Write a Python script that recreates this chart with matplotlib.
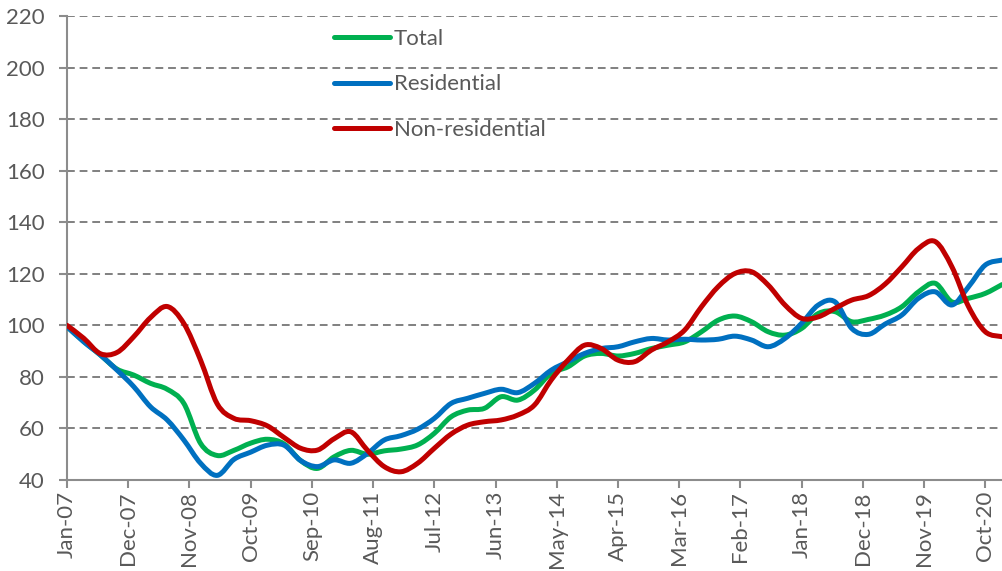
import numpy as np
import matplotlib
matplotlib.use("Agg")
from matplotlib import pyplot as plt
from matplotlib.path import Path
from matplotlib.patches import PathPatch
from matplotlib.lines import Line2D

# quarterly readings (Jan-07 .. Jan-21), index 2007-01 = 100
total = [99.5, 93.8, 88.5, 83.0, 80.7, 77.5, 75.2, 69.7, 54.2, 49.5,
         51.5, 54.3, 55.8, 54.0, 47.5, 44.5, 49.0, 51.5, 50.0, 51.3,
         52.0, 53.6, 58.1, 64.5, 67.1, 67.8, 72.3, 71.0, 74.9, 81.4,
         83.9, 88.1, 89.1, 88.1, 89.1, 91.0, 92.3, 93.6, 97.5, 102.0,
         103.6, 101.4, 97.5, 96.2, 98.8, 104.6, 105.3, 101.4, 102.3, 104.0,
         107.2, 113.0, 116.3, 109.1, 110.5, 112.4, 115.8]
residential = [99.5, 93.6, 88.5, 82.6, 76.2, 68.4, 63.3, 55.5, 46.5, 41.8,
               48.0, 50.8, 53.5, 53.5, 47.5, 45.2, 47.8, 46.5, 50.3, 55.5,
               57.2, 59.7, 63.9, 69.7, 71.7, 73.6, 75.2, 73.9, 77.5, 82.6,
               85.9, 89.1, 91.0, 91.7, 93.6, 94.9, 94.3, 94.6, 94.3, 94.6,
               95.8, 94.3, 91.7, 94.9, 100.8, 107.9, 109.1, 98.8, 96.5, 100.5,
               104.0, 110.5, 113.0, 107.9, 115.0, 123.4, 125.3]
non_residential = [100.0, 95.0, 89.0, 89.5, 95.6, 103.0, 107.3, 100.7, 86.5, 69.5,
                   63.9, 63.0, 61.0, 56.5, 52.3, 51.6, 56.0, 58.7, 51.5, 45.2,
                   43.2, 46.5, 52.3, 57.8, 61.3, 62.6, 63.3, 65.2, 69.1, 78.8,
                   86.5, 92.3, 91.0, 86.5, 85.9, 90.4, 93.6, 98.2, 107.2, 115.0,
                   120.1, 120.8, 115.6, 107.9, 102.7, 103.3, 106.6, 109.8, 111.5, 116.0,
                   122.7, 129.8, 132.5, 122.7, 107.2, 97.5, 95.6]

months = np.arange(0, 3 * len(total), 3)   # month index from Jan-07
tick_labels = ['Jan-07', 'Dec-07', 'Nov-08', 'Oct-09', 'Sep-10', 'Aug-11',
               'Jul-12', 'Jun-13', 'May-14', 'Apr-15', 'Mar-16', 'Feb-17',
               'Jan-18', 'Dec-18', 'Nov-19', 'Oct-20']
tick_pos = np.arange(0, 11 * len(tick_labels), 11)

names = ['Total', 'Residential', 'Non-residential']
colors = ['#00B050', '#0070C0', '#C00000']

grey = '#595959'
plt.rcParams['font.family'] = ['Lato', 'DejaVu Sans']


# smoothed line like excel (catmull-rom as bezier path)
def smooth_path(x, y):
    n = len(x)
    verts = [(x[0], y[0])]
    codes = [Path.MOVETO]
    for i in range(n - 1):
        a = max(i - 1, 0)
        d = min(i + 2, n - 1)
        c1 = (x[i] + (x[i + 1] - x[a]) / 6, y[i] + (y[i + 1] - y[a]) / 6)
        c2 = (x[i + 1] - (x[d] - x[i]) / 6, y[i + 1] - (y[d] - y[i]) / 6)
        verts += [c1, c2, (x[i + 1], y[i + 1])]
        codes += [Path.CURVE4] * 3
    return Path(verts, codes)


fig = plt.figure(figsize=(10.02, 5.71), dpi=100)
ax = fig.add_axes([67 / 1002, 91 / 571, 1 - 67 / 1002, (480 - 16) / 571])

for k, (series, c) in enumerate(zip([total, residential, non_residential], colors)):
    patch = PathPatch(smooth_path(months, series), facecolor='none', edgecolor=c,
                      lw=3.6, capstyle='round', joinstyle='round', zorder=3 + k)
    ax.add_patch(patch)

ax.set_xlim(0, 168)
ax.set_ylim(40, 220)
ax.set_yticks(range(40, 221, 20))
ax.set_xticks(tick_pos)
ax.set_xticklabels(tick_labels, rotation=90)

ax.grid(axis='y', color='#808080', lw=1.4, linestyle=(0, (4, 2.5)))
ax.set_axisbelow(True)
for s in ['top', 'right']:
    ax.spines[s].set_visible(False)
for s in ['left', 'bottom']:
    ax.spines[s].set_color('#8c8c8c')
    ax.spines[s].set_linewidth(1.5)

ax.tick_params(axis='y', colors='#8c8c8c', labelcolor=grey, labelsize=16,
               length=6, width=1.5, pad=10)
ax.tick_params(axis='x', colors='#8c8c8c', labelcolor=grey, labelsize=16,
               length=6, width=1.5, pad=2)

handles = [Line2D([], [], color=c, lw=3.6, solid_capstyle='round') for c in colors]
fig.legend(handles, names, loc='upper left', bbox_to_anchor=(334 / 1002, 1 - 29 / 571),
           frameon=False, fontsize=16, labelcolor=grey, handlelength=2.5,
           handletextpad=0.2, labelspacing=1.14, borderpad=0, borderaxespad=0)

fig.savefig('out.png', dpi=100)
